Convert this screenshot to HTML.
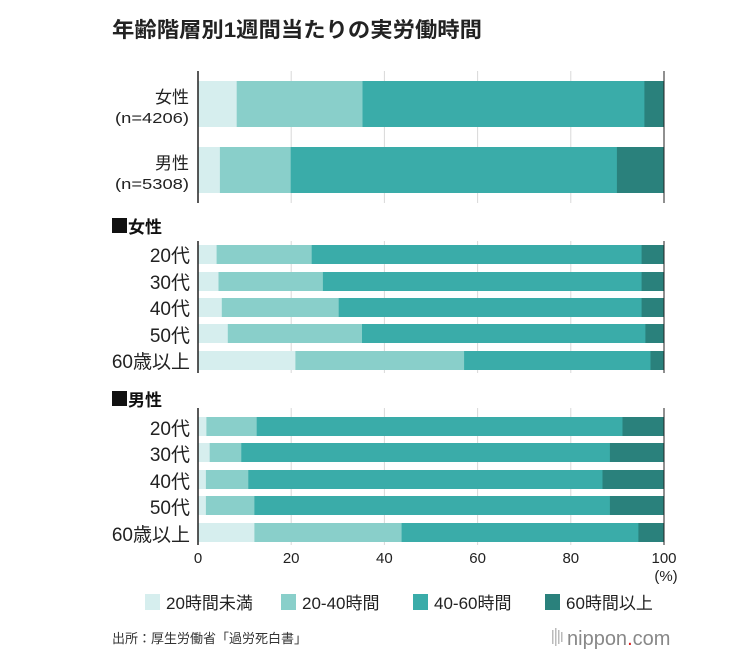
<!DOCTYPE html>
<html><head><meta charset="utf-8"><style>
body{margin:0;background:#fff;}
svg text{font-family:"Liberation Sans","Noto Sans CJK JP",sans-serif;}
</style></head><body>
<svg width="732" height="662" viewBox="0 0 732 662" xmlns="http://www.w3.org/2000/svg">
<text x="112" y="37" font-size="21" font-weight="bold" fill="#222" textLength="370" lengthAdjust="spacingAndGlyphs">年齢階層別1週間当たりの実労働時間</text>
<g stroke="#d8d8d8" stroke-width="1">
<line x1="291.2" y1="71" x2="291.2" y2="203"/><line x1="384.4" y1="71" x2="384.4" y2="203"/><line x1="477.6" y1="71" x2="477.6" y2="203"/><line x1="570.8" y1="71" x2="570.8" y2="203"/>
<line x1="291.2" y1="241" x2="291.2" y2="373"/><line x1="384.4" y1="241" x2="384.4" y2="373"/><line x1="477.6" y1="241" x2="477.6" y2="373"/><line x1="570.8" y1="241" x2="570.8" y2="373"/>
<line x1="291.2" y1="408" x2="291.2" y2="545"/><line x1="384.4" y1="408" x2="384.4" y2="545"/><line x1="477.6" y1="408" x2="477.6" y2="545"/><line x1="570.8" y1="408" x2="570.8" y2="545"/>
</g>
<g>
<rect x="198" y="81" width="466" height="46" fill="#2a817c"/><rect x="198" y="81" width="446.4" height="46" fill="#3aaca9"/><rect x="198" y="81" width="164.5" height="46" fill="#89cfca"/><rect x="198" y="81" width="38.7" height="46" fill="#d6eeee"/>
<rect x="198" y="147" width="466" height="46" fill="#2a817c"/><rect x="198" y="147" width="418.9" height="46" fill="#3aaca9"/><rect x="198" y="147" width="92.7" height="46" fill="#89cfca"/><rect x="198" y="147" width="21.9" height="46" fill="#d6eeee"/>

<rect x="198" y="245" width="466" height="19" fill="#2a817c"/><rect x="198" y="245" width="443.6" height="19" fill="#3aaca9"/><rect x="198" y="245" width="113.7" height="19" fill="#89cfca"/><rect x="198" y="245" width="18.6" height="19" fill="#d6eeee"/>
<rect x="198" y="272" width="466" height="19" fill="#2a817c"/><rect x="198" y="272" width="443.6" height="19" fill="#3aaca9"/><rect x="198" y="272" width="124.9" height="19" fill="#89cfca"/><rect x="198" y="272" width="20.5" height="19" fill="#d6eeee"/>
<rect x="198" y="298" width="466" height="19" fill="#2a817c"/><rect x="198" y="298" width="443.6" height="19" fill="#3aaca9"/><rect x="198" y="298" width="140.7" height="19" fill="#89cfca"/><rect x="198" y="298" width="23.8" height="19" fill="#d6eeee"/>
<rect x="198" y="324" width="466" height="19" fill="#2a817c"/><rect x="198" y="324" width="447.4" height="19" fill="#3aaca9"/><rect x="198" y="324" width="164.0" height="19" fill="#89cfca"/><rect x="198" y="324" width="29.8" height="19" fill="#d6eeee"/>
<rect x="198" y="351" width="466" height="19" fill="#2a817c"/><rect x="198" y="351" width="452.5" height="19" fill="#3aaca9"/><rect x="198" y="351" width="266.1" height="19" fill="#89cfca"/><rect x="198" y="351" width="97.4" height="19" fill="#d6eeee"/>

<rect x="198" y="417" width="466" height="19" fill="#2a817c"/><rect x="198" y="417" width="424.5" height="19" fill="#3aaca9"/><rect x="198" y="417" width="58.7" height="19" fill="#89cfca"/><rect x="198" y="417" width="8.4" height="19" fill="#d6eeee"/>
<rect x="198" y="443" width="466" height="19" fill="#2a817c"/><rect x="198" y="443" width="411.9" height="19" fill="#3aaca9"/><rect x="198" y="443" width="43.3" height="19" fill="#89cfca"/><rect x="198" y="443" width="11.7" height="19" fill="#d6eeee"/>
<rect x="198" y="470" width="466" height="19" fill="#2a817c"/><rect x="198" y="470" width="404.5" height="19" fill="#3aaca9"/><rect x="198" y="470" width="50.3" height="19" fill="#89cfca"/><rect x="198" y="470" width="7.9" height="19" fill="#d6eeee"/>
<rect x="198" y="496" width="466" height="19" fill="#2a817c"/><rect x="198" y="496" width="411.9" height="19" fill="#3aaca9"/><rect x="198" y="496" width="56.4" height="19" fill="#89cfca"/><rect x="198" y="496" width="7.9" height="19" fill="#d6eeee"/>
<rect x="198" y="523" width="466" height="19" fill="#2a817c"/><rect x="198" y="523" width="440.4" height="19" fill="#3aaca9"/><rect x="198" y="523" width="203.6" height="19" fill="#89cfca"/><rect x="198" y="523" width="56.4" height="19" fill="#d6eeee"/>
</g>
<g stroke="#222" stroke-width="1.5">
<line x1="198" y1="71" x2="198" y2="203"/><line x1="198" y1="241" x2="198" y2="373"/><line x1="198" y1="408" x2="198" y2="545"/>
</g>
<g stroke="#222" stroke-width="1">
<line x1="664" y1="71" x2="664" y2="203"/><line x1="664" y1="241" x2="664" y2="373"/><line x1="664" y1="408" x2="664" y2="545"/>
</g>
<g font-size="17" fill="#222" text-anchor="end">
<text x="189" y="103">女性</text>
<text x="189" y="123" font-size="15" textLength="74" lengthAdjust="spacingAndGlyphs">(n=4206)</text>
<text x="189" y="169">男性</text>
<text x="189" y="189" font-size="15" textLength="74" lengthAdjust="spacingAndGlyphs">(n=5308)</text>
</g>
<rect x="112" y="218" width="15" height="15" fill="#111"/>
<text x="128" y="233" font-size="17" font-weight="bold" fill="#111">女性</text>
<rect x="112" y="391" width="15" height="15" fill="#111"/>
<text x="128" y="406" font-size="17" font-weight="bold" fill="#111">男性</text>
<g font-size="19" fill="#222" text-anchor="end">
<text x="190" y="262">20代</text><text x="190" y="289">30代</text><text x="190" y="315">40代</text><text x="190" y="342">50代</text><text x="190" y="368">60歳以上</text>
<text x="190" y="435">20代</text><text x="190" y="461">30代</text><text x="190" y="488">40代</text><text x="190" y="514">50代</text><text x="190" y="541">60歳以上</text>
</g>
<g font-size="15" fill="#222" text-anchor="middle">
<text x="198" y="563">0</text><text x="291.2" y="563">20</text><text x="384.4" y="563">40</text><text x="477.6" y="563">60</text><text x="570.8" y="563">80</text><text x="664" y="563">100</text>
<text x="666" y="581">(%)</text>
</g>
<g font-size="17" fill="#222">
<rect x="145" y="594" width="15" height="16" fill="#d6eeee"/><text x="166" y="609">20時間未満</text>
<rect x="281" y="594" width="15" height="16" fill="#89cfca"/><text x="302" y="609">20-40時間</text>
<rect x="413" y="594" width="15" height="16" fill="#3aaca9"/><text x="434" y="609">40-60時間</text>
<rect x="545" y="594" width="15" height="16" fill="#2a817c"/><text x="566" y="609">60時間以上</text>
</g>
<text x="112" y="643" font-size="13" fill="#333">出所：厚生労働省「過労死白書」</text>
<g fill="#bbb"><rect x="552" y="630" width="1.5" height="14"/><rect x="555" y="628" width="1.5" height="18"/><rect x="558" y="630" width="1.5" height="14"/><rect x="561" y="632" width="1.5" height="10"/></g>
<text x="567" y="645" font-size="20" fill="#888">nippon<tspan fill="#d22">.</tspan>com</text>
</svg>
</body></html>
